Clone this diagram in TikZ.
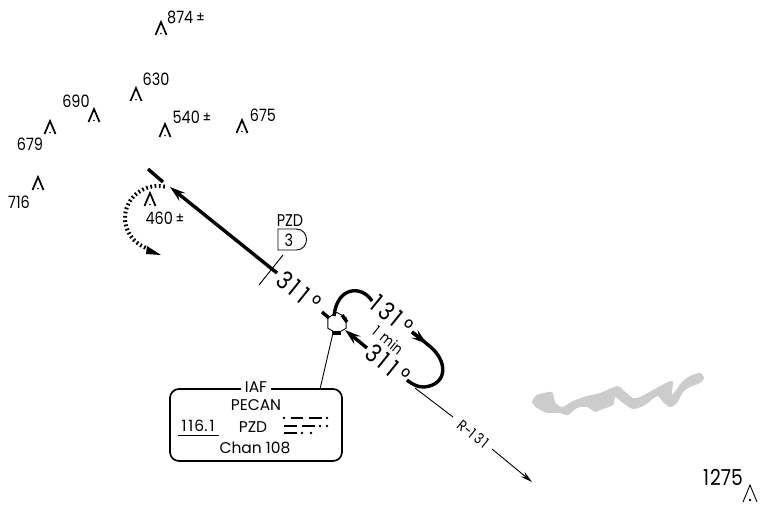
\documentclass[tikz,border=0pt]{standalone}
\usepackage{fontspec}
\setmainfont{Poppins}
\newfontfamily\numf[FakeStretch=0.85]{Poppins}
\usetikzlibrary{arrows.meta,shapes.geometric}
\tikzset{
 x=1pt,y=-1pt,
 lbl/.style={inner sep=0pt,font=\numf\fontsize{17}{17}\selectfont},
 boxt/.style={inner sep=0pt,font=\fontsize{15.5}{15.5}\selectfont},
 big/.style={inner sep=0pt,font=\numf\fontsize{25}{25}\selectfont,rotate=-39},
 thick line/.style={line width=3.4pt,black},
 thin line/.style={line width=0.9pt,black},
 morse/.style={line width=2.6pt},
 head/.style={-{Stealth[length=16pt,width=10pt,inset=6pt]}},
}
\newcommand{\obst}[3]{%
 \draw[line width=1.7pt,line join=miter] (#1-5.5,#2+13) -- (#1,#2) -- (#1+5.5,#2+13);
 \fill (#1,#2+11.5) circle (0.8);
 \coordinate (#3) at (#1,#2);}
\newcommand{\pmk}{\,\raisebox{0.5pt}{\fontsize{15}{15}\selectfont ±}}
\begin{document}
\begin{tikzpicture}
\useasboundingbox (0,0) rectangle (765,507);
% lake
\fill[black!20] plot[smooth cycle,tension=0.45] coordinates {
(532,402)(537,395)(552,392)(555,402)(562,407)(573,401)(587,396)(600,393)(617,386)(623,390)(633,398)(640,397)(653,390)(670,381)(673,383)(672,395)(682,382)(690,376)(700,373)(704,378)(700,383)(690,387)(683,392)(677,403)(670,407)(663,402)(657,396)(645,405)(633,409)(623,403)(615,397)(613,405)(600,410)(595,412)(587,407)(577,408)(568,415)(560,413)(547,413)(537,408)};
% obstacles
\obst{161}{22}{o1}\obst{136}{88}{o2}\obst{94}{109}{o3}\obst{50}{121}{o4}\obst{38}{177}{o5}\obst{165}{124}{o6}\obst{242}{120}{o7}\obst{150}{193}{o8}
\draw[line width=0.9pt] (743,502) -- (750,485) coordinate (o9) -- (757,502);
\fill (750,500) circle (1.4);
\node[lbl] (t1) at (186,17) {874\pmk};
\node[lbl] (t2) at (156,79) {630};
\node[lbl] (t3) at (76,101) {690};
\node[lbl] (t4) at (30,144) {679};
\node[lbl] (t5) at (19,202) {716};
\node[lbl] (t6) at (192,117) {540\pmk};
\node[lbl] (t7) at (263,115) {675};
\node[lbl] (t8) at (165,218) {460\pmk};
\node[lbl,font=\numf\fontsize{22}{22}\selectfont] (t9) at (723,477) {1\kern1pt 275};
% course
\coordinate (barA) at (148,169); \coordinate (barB) at (163,182);
\draw[thick line] (barA) -- (barB);
\coordinate (turnStart) at (277,273); \coordinate (turnTip) at (170,187);
\draw[thick line,head] (turnStart) -- (turnTip);
\coordinate (tickA) at (259,285); \coordinate (tickB) at (283,255);
\draw[thin line] (tickA) -- (tickB);
% dotted procedure turn
\draw[line width=4pt,dash pattern=on 1.7pt off 2.6pt] plot[smooth,domain=78:250,samples=40] ({158+33*cos(\x)},{218-32*sin(\x)});
\fill (147,246) -- (161,255) -- (146,254) -- cycle;
% PZD
\node[lbl] (pzd) at (290,221) {PZD};
\draw[line width=0.9pt] (278,229) -- (296,229) .. controls (310,229) and (310,250) .. (296,250) -- (278,250) -- cycle;
\node[lbl] (three) at (289,240) {3};
% big labels
\node[big] (c1) at (299,291) {3\kern3pt 1\kern5pt 1\kern5pt °};
\node[big] (c2) at (392,315) {1\kern4pt 3\kern3pt 1\kern5pt °};
\node[big] (c3) at (388,364) {3\kern3pt 1\kern5pt 1\kern5pt °};
\node[lbl,rotate=-39,font=\numf\fontsize{15}{15}\selectfont] (min) at (388,340) {1\kern6pt min};
% fix
\node[regular polygon,regular polygon sides=6,draw,line width=0.9pt,fill=white,minimum size=21pt,inner sep=0pt,rotate=30] (fix) at (337,323) {};
\draw[thick line] (322,312) -- (329,318);
\draw[thick line] (342,315) -- (347,322);
\draw[thick line] (332,333) -- (341,333);
% holding
\coordinate (h1) at (334,316); \coordinate (h2) at (372,301);
\draw[thick line] (h1) .. controls (337,286) and (362,285) .. (h2);
\coordinate (h3) at (412,332); \coordinate (h4) at (427,344);
\coordinate (h5) at (407,380);
\draw[thick line] (h3) -- (420,338) -- (h4) .. controls (449,360) and (448,385) .. (424,387) .. controls (418,387) and (413,385) .. (h5);
\draw[thick line,head] (h3) -- (h4);
\coordinate (h6) at (367,348); \coordinate (h7) at (345,330);
\draw[thick line,head] (h6) -- (h7);
% R-131
\coordinate (r1) at (415,388); \coordinate (r2) at (453,417); \coordinate (r3) at (492,449); \coordinate (r4) at (532,482);
\draw[thin line] (r1) -- (r2);
\node[lbl,rotate=-39,font=\numf\fontsize{15}{15}\selectfont] (rad) at (473,434) {R-1\kern3pt 3\kern2pt 1};
\draw[thin line,-{Stealth[length=12pt,width=6pt]}] (r3) -- (r4);
% box
\node[draw,line width=1.7pt,rounded corners=9pt,minimum width=172pt,minimum height=72pt,inner sep=0pt] (box) at (256,425) {};
\coordinate (boxtop) at (320,389);
\coordinate (fixb) at (333,333);
\draw[thin line] (fixb) -- (boxtop);
\node[boxt,fill=white,inner xsep=4pt,inner ysep=2pt] (iaf) at (256,387) {IAF};
\node[boxt] (pecan) at (256,405) {PECAN};
\node[boxt] (freq) at (198,426) {1\kern2pt 1\kern1pt 6.\kern2pt 1};
\draw[line width=0.9pt] (178,435) -- (219,435);
\node[boxt] (id) at (253,427) {PZD};
\node[boxt] (chan) at (255,448) {Chan 108};
% morse
\foreach \a/\b/\y in {291/303/418,309/322/418,284/297/426,302/315/426,284/297/433}
 \draw[morse] (\a,\y) -- (\b,\y);
\foreach \a/\y in {284/418,327/418,320/426,327/426,302/433,311/433}
 \fill (\a,\y) circle (1.4);
\end{tikzpicture}
\end{document}
